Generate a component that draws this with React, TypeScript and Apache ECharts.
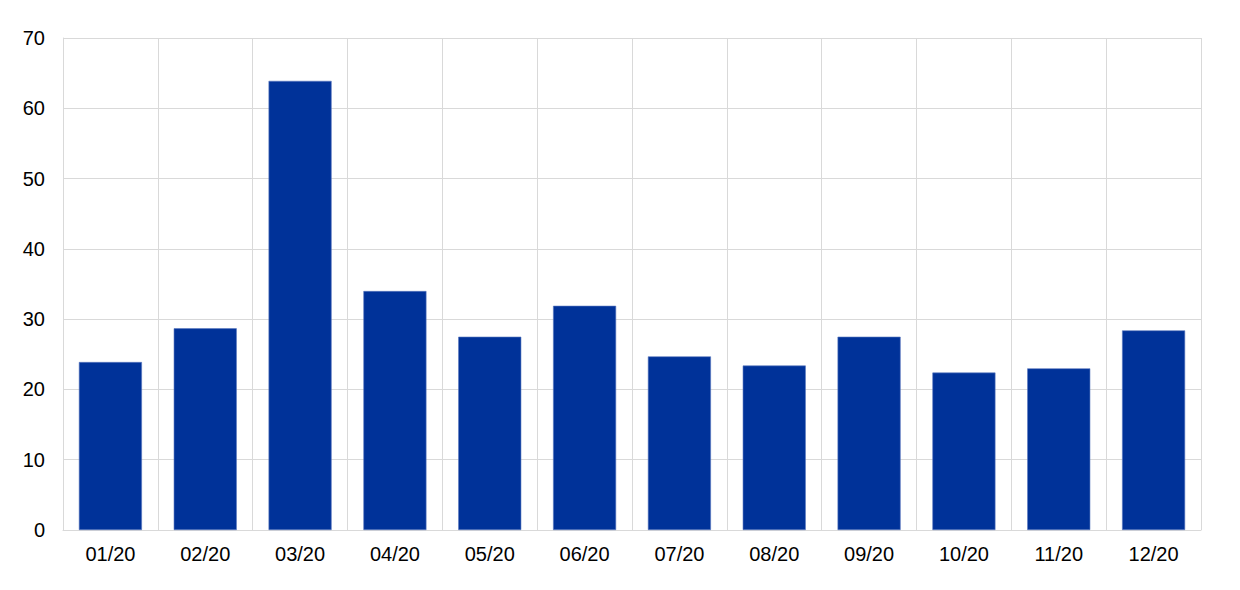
import React, { useEffect, useRef } from "react";
import * as echarts from "echarts";

const categories = ["01/20", "02/20", "03/20", "04/20", "05/20", "06/20", "07/20", "08/20", "09/20", "10/20", "11/20", "12/20"];
const values = [23.9, 28.7, 63.9, 34.0, 27.5, 31.9, 24.7, 23.4, 27.5, 22.4, 23.0, 28.4];
const yTicks = { min: 0, max: 70, interval: 10 };

export default function App() {
  const ref = useRef<HTMLDivElement>(null);
  useEffect(() => {
    if (!ref.current) return;
    const chart = echarts.init(ref.current, undefined, { renderer: "svg" });
    const gridColor = "#d9d9d9";
    chart.setOption({
      animation: false,
      grid: { left: 63, right: 39, top: 38, bottom: 60, containLabel: false },
      xAxis: {
        type: "category",
        data: categories,
        boundaryGap: true,
        axisLine: { show: true, lineStyle: { color: gridColor, width: 1 } },
        axisTick: { show: false },
        splitLine: { show: true, lineStyle: { color: gridColor, width: 1 } },
        axisLabel: {
          color: "#000",
          fontFamily: "Liberation Sans, Arial, sans-serif",
          fontSize: 20,
          margin: 14,
        },
      },
      yAxis: {
        type: "value",
        min: yTicks.min,
        max: yTicks.max,
        interval: yTicks.interval,
        axisLine: { show: true, lineStyle: { color: gridColor, width: 1 } },
        axisTick: { show: false },
        splitLine: { show: true, lineStyle: { color: gridColor, width: 1 } },
        axisLabel: {
          color: "#000",
          fontFamily: "Liberation Sans, Arial, sans-serif",
          fontSize: 20,
          margin: 18,
        },
      },
      series: [
        {
          type: "bar",
          data: values,
          barCategoryGap: "33.5%",
          itemStyle: { color: "#003299", borderColor: "#5a78c0", borderWidth: 0.6 },
        },
      ],
    });
    return () => chart.dispose();
  }, []);
  return (
    <div
      ref={ref}
      style={{ position: "absolute", left: 0, top: 0, width: 1240, height: 590, background: "#fff" }}
    />
  );
}
